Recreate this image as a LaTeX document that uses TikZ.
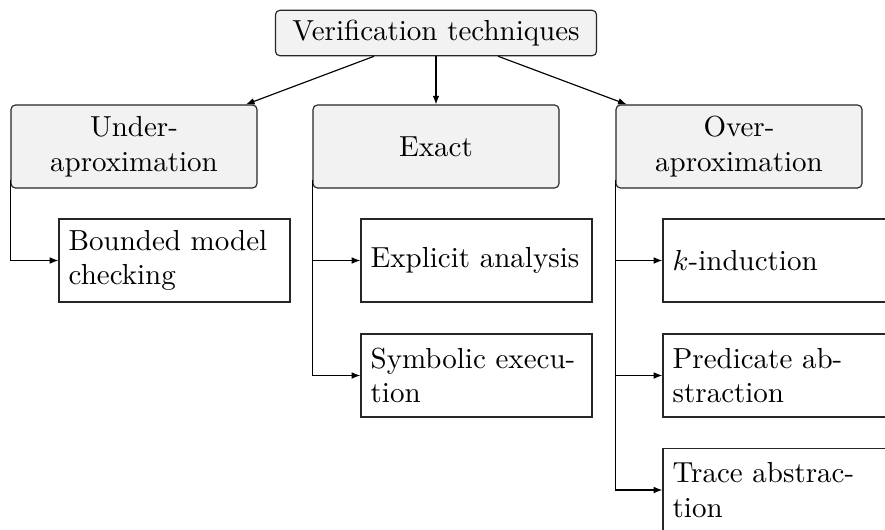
\documentclass[tikz,border=0pt]{standalone}
\usetikzlibrary{arrows.meta}
\begin{document}
\begin{tikzpicture}[x=0.3448pt,y=-0.3448pt,
  rootbox/.style={draw=black!85, fill=gray!10, rounded corners=1.5pt,
    minimum width=110.7pt, minimum height=15.2pt, inner sep=3.33pt},
  catbox/.style={draw=black!85, fill=gray!10, rounded corners=1.5pt,
    minimum width=84.8pt, minimum height=28.6pt, align=center, inner sep=3.33pt},
  leafbox/.style={draw=black!85, fill=white, text width=72.98pt,
    minimum height=28.6pt, align=left, inner sep=3.33pt},
  link/.style={-{Latex[length=3pt,width=2.3pt]}, line width=0.4pt}]
\clip (0,0) rectangle (885,529);

% root of the taxonomy
\node[rootbox] (root) at (436,33) {Verification techniques};

% the three families
\node[catbox] (under) at (134,146.5) {Under-\\aproximation};
\node[catbox] (exact) at (436,146.5) {Exact};
\node[catbox] (over)  at (739,146.5) {Over-\\aproximation};

% concrete techniques
\node[leafbox] (bmc)  at (174.5,260.5) {Bounded model checking};
\node[leafbox] (expl) at (476.5,260.5) {Explicit analysis};
\node[leafbox] (symb) at (476.5,375.5) {Symbolic execution};
\node[leafbox] (kind) at (778.5,260.5) {$k$-induction};
\node[leafbox] (pred) at (778.5,375.5) {Predicate abstraction};
\node[leafbox] (trace) at (778.5,490) {Trace abstraction};

% root to families
\draw[link] (root) -- (under);
\draw[link] (root) -- (exact);
\draw[link] (root) -- (over);

% families to techniques
\draw[link] ([yshift=3pt]under.south west) |- (bmc.west);
\draw[link] ([yshift=3pt]exact.south west) |- (expl.west);
\draw[link] ([yshift=3pt]exact.south west) |- (symb.west);
\draw[link] ([yshift=3pt]over.south west) |- (kind.west);
\draw[link] ([yshift=3pt]over.south west) |- (pred.west);
\draw[link] ([yshift=3pt]over.south west) |- (trace.west);
\end{tikzpicture}
\end{document}
